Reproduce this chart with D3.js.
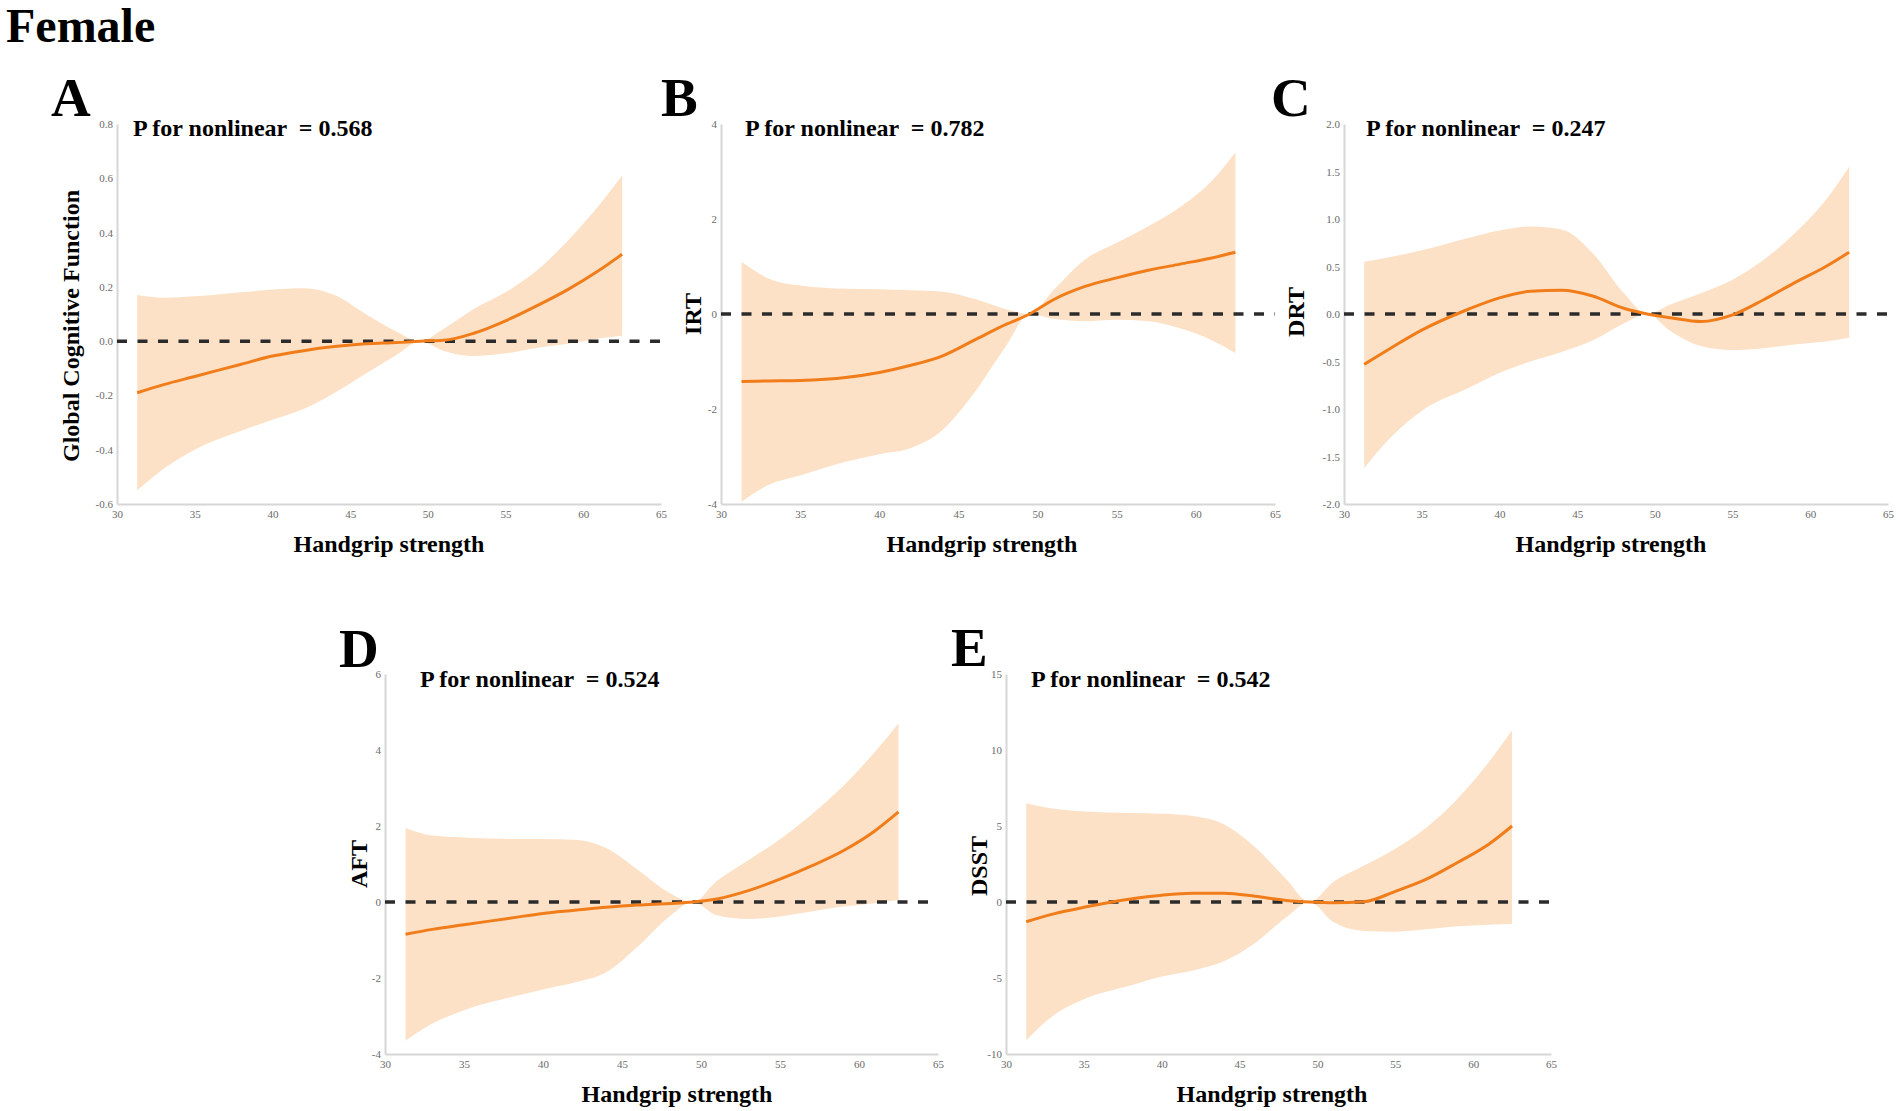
<!DOCTYPE html>
<html>
<head>
<meta charset="utf-8">
<script src="https://cdn.jsdelivr.net/npm/d3@7"></script>
<style>
  body { margin: 0; background: #fff; }
  svg { display: block; font-family: "Liberation Serif", "Times New Roman", serif; }
</style>
</head>
<body>
<svg width="1902" height="1111"></svg>
<script>
// handgrip strength grid the curves were read at
const gripX = [31.3, 33, 35, 38, 40, 42, 44, 46, 48, 49.5, 51, 53, 55, 57, 59, 61, 62.5];
const xTicks = [30, 35, 40, 45, 50, 55, 60, 65];

const gcfFit   = [-0.19, -0.16, -0.13, -0.085, -0.055, -0.035, -0.02, -0.01, -0.005, 0, 0.003, 0.03, 0.075, 0.13, 0.19, 0.26, 0.32];
const gcfUpper = [0.17, 0.16, 0.165, 0.18, 0.19, 0.195, 0.17, 0.1, 0.035, 0, 0.045, 0.12, 0.18, 0.26, 0.37, 0.5, 0.61];
const gcfLower = [-0.55, -0.47, -0.4, -0.33, -0.29, -0.25, -0.19, -0.12, -0.05, 0, -0.035, -0.055, -0.045, -0.025, -0.01, 0.01, 0.02];

const irtFit   = [-1.42, -1.41, -1.4, -1.33, -1.23, -1.08, -0.88, -0.55, -0.22, 0, 0.3, 0.58, 0.76, 0.92, 1.05, 1.18, 1.3];
const irtUpper = [1.1, 0.75, 0.6, 0.53, 0.52, 0.5, 0.47, 0.32, 0.1, 0, 0.5, 1.15, 1.5, 1.85, 2.25, 2.8, 3.4];
const irtLower = [-3.95, -3.6, -3.4, -3.1, -2.95, -2.82, -2.44, -1.66, -0.68, 0, -0.1, -0.15, -0.12, -0.15, -0.3, -0.55, -0.82];

const drtFit   = [-0.53, -0.36, -0.17, 0.05, 0.17, 0.24, 0.25, 0.19, 0.06, 0, -0.04, -0.08, -0.01, 0.15, 0.33, 0.5, 0.65];
const drtUpper = [0.55, 0.6, 0.67, 0.8, 0.88, 0.92, 0.89, 0.64, 0.22, 0, 0.1, 0.22, 0.36, 0.57, 0.85, 1.2, 1.55];
const drtLower = [-1.62, -1.3, -1.02, -0.78, -0.62, -0.5, -0.4, -0.28, -0.1, 0, -0.18, -0.34, -0.38, -0.36, -0.32, -0.29, -0.25];

const aftFit   = [-0.85, -0.72, -0.6, -0.42, -0.3, -0.22, -0.14, -0.08, -0.04, 0, 0.08, 0.3, 0.6, 0.95, 1.35, 1.87, 2.37];
const aftUpper = [1.95, 1.75, 1.7, 1.66, 1.66, 1.64, 1.42, 0.85, 0.24, 0, 0.55, 1.1, 1.65, 2.3, 3.05, 3.95, 4.7];
const aftLower = [-3.65, -3.2, -2.85, -2.5, -2.3, -2.12, -1.85, -1.17, -0.38, 0, -0.35, -0.45, -0.38, -0.25, -0.12, -0.03, 0.05];

const dsstFit   = [-1.3, -0.8, -0.35, 0.2, 0.45, 0.58, 0.58, 0.38, 0.1, 0, -0.05, 0.02, 0.7, 1.5, 2.6, 3.8, 5.0];
const dsstUpper = [6.5, 6.15, 5.95, 5.85, 5.8, 5.65, 5.1, 3.6, 1.5, 0, 1.3, 2.4, 3.5, 4.9, 6.8, 9.2, 11.3];
const dsstLower = [-9.1, -7.5, -6.4, -5.5, -4.9, -4.5, -3.9, -2.7, -1.0, 0, -1.3, -1.9, -1.95, -1.8, -1.6, -1.5, -1.45];

const panelLetters = ["A", "B", "C", "D", "E"];
const outcomeLabels = ["Global Cognitive Function", "IRT", "DRT", "AFT", "DSST"];
const pNonlinear = ["0.568", "0.782", "0.247", "0.524", "0.542"];
const yDomains = [[-0.6, 0.8], [-4, 4], [-2, 2], [-4, 6], [-10, 15]];
const yTicks = [
  [-0.6, -0.4, -0.2, 0, 0.2, 0.4, 0.6, 0.8],
  [-4, -2, 0, 2, 4],
  [-2, -1.5, -1, -0.5, 0, 0.5, 1, 1.5, 2],
  [-4, -2, 0, 2, 4, 6],
  [-10, -5, 0, 5, 10, 15]
];
const yDecimals = [1, 0, 1, 0, 0];

const series = [
  [gcfFit, gcfLower, gcfUpper],
  [irtFit, irtLower, irtUpper],
  [drtFit, drtLower, drtUpper],
  [aftFit, aftLower, aftUpper],
  [dsstFit, dsstLower, dsstUpper]
];

// where each panel sits on the page
const layout = [
  { x0: 117, x1: 661, top: 124, bottom: 504, letterX: 51, letterY: 116, labelX: 71, labelY: 326, pX: 133, pY: 136, titleX: 389 },
  { x0: 721, x1: 1275, top: 124, bottom: 504, letterX: 661, letterY: 116, labelX: 693, labelY: 314, pX: 745, pY: 136, titleX: 982 },
  { x0: 1344, x1: 1888, top: 124, bottom: 504, letterX: 1271, letterY: 116, labelX: 1296, labelY: 312, pX: 1366, pY: 136, titleX: 1611 },
  { x0: 385, x1: 938, top: 674, bottom: 1054, letterX: 339, letterY: 667, labelX: 359, labelY: 864, pX: 420, pY: 687, titleX: 677 },
  { x0: 1006, x1: 1551, top: 674, bottom: 1054, letterX: 951, letterY: 666, labelX: 979, labelY: 866, pX: 1031, pY: 687, titleX: 1272 }
];

const svg = d3.select("svg");

svg.append("text")
  .attr("x", 6)
  .attr("y", 42)
  .attr("font-size", 48)
  .attr("font-weight", "bold")
  .text("Female");

layout.forEach((L, i) => {
  const g = svg.append("g");
  const [fit, lower, upper] = series[i];
  const pts = gripX.map((x, j) => ({ x: x, fit: fit[j], lo: lower[j], hi: upper[j] }));

  const x = d3.scaleLinear().domain([30, 65]).range([L.x0, L.x1]);
  const y = d3.scaleLinear().domain(yDomains[i]).range([L.bottom, L.top]);

  const band = d3.area()
    .x(d => x(d.x))
    .y0(d => y(d.lo))
    .y1(d => y(d.hi))
    .curve(d3.curveMonotoneX);

  g.append("path")
    .datum(pts)
    .attr("d", band)
    .attr("fill", "#fde1c7");

  // axes
  const dec = yDecimals[i];
  const yAxis = g.append("g")
    .attr("transform", `translate(${L.x0},0)`)
    .call(d3.axisLeft(y).tickValues(yTicks[i]).tickSize(0).tickPadding(4)
      .tickFormat(d => d.toFixed(dec)));
  const xAxis = g.append("g")
    .attr("transform", `translate(0,${L.bottom})`)
    .call(d3.axisBottom(x).tickValues(xTicks).tickSize(0).tickPadding(6));

  [yAxis, xAxis].forEach(a => {
    a.select(".domain").attr("stroke", "#d6d6d6").attr("stroke-width", 2);
    a.selectAll("text")
      .attr("fill", "#6a6a6a")
      .attr("font-size", 11)
      .attr("font-family", "Liberation Serif, serif");
  });

  // reference line at zero
  g.append("line")
    .attr("x1", L.x0)
    .attr("x2", L.x1)
    .attr("y1", y(0))
    .attr("y2", y(0))
    .attr("stroke", "#2b2b2b")
    .attr("stroke-width", 3.5)
    .attr("stroke-dasharray", "10,10.5");

  const line = d3.line()
    .x(d => x(d.x))
    .y(d => y(d.fit))
    .curve(d3.curveMonotoneX);

  g.append("path")
    .datum(pts)
    .attr("d", line)
    .attr("fill", "none")
    .attr("stroke", "#f07d1a")
    .attr("stroke-width", 3);

  g.append("text")
    .attr("x", L.letterX)
    .attr("y", L.letterY)
    .attr("font-size", 55)
    .attr("font-weight", "bold")
    .text(panelLetters[i]);

  g.append("text")
    .attr("x", L.pX)
    .attr("y", L.pY)
    .attr("font-size", 24)
    .attr("font-weight", "bold")
    .attr("xml:space", "preserve")
    .style("white-space", "pre")
    .text("P for nonlinear  = " + pNonlinear[i]);

  g.append("text")
    .attr("transform", `translate(${L.labelX},${L.labelY}) rotate(-90)`)
    .attr("dy", "0.33em")
    .attr("text-anchor", "middle")
    .attr("font-size", 24)
    .attr("font-weight", "bold")
    .text(outcomeLabels[i]);

  g.append("text")
    .attr("x", L.titleX)
    .attr("y", L.bottom + 48)
    .attr("text-anchor", "middle")
    .attr("font-size", 24)
    .attr("font-weight", "bold")
    .text("Handgrip strength");
});
</script>
</body>
</html>
